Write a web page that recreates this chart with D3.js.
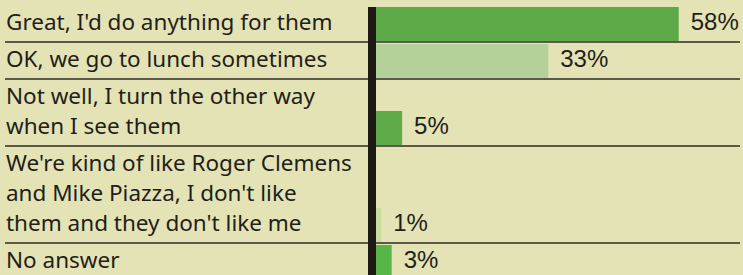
<!DOCTYPE html>
<html lang="en">
    <head>
        <meta charset="UTF-8" />
        <title>How well do you get along with them?</title>
        <script src="https://d3js.org/d3.v7.min.js"></script>
        <style>
            body {
                margin: 0;
                padding: 0;
                background: #e4e3b6;
            }
            svg {
                display: block;
            }
            .label {
                font-family: 'Noto Sans', sans-serif;
                font-size: 22.5px;
                fill: #221e19;
            }
            .value {
                font-family: 'Liberation Sans', Arial, sans-serif;
                font-size: 24px;
                fill: #221e19;
            }
            .sep {
                stroke: #2e2b24;
                stroke-width: 1.6px;
            }
        </style>
    </head>
    <body>
        <svg id="chart" width="743" height="275"></svg>

        <script>
            // answers, one entry per line of label text
            const answers = [
                ["Great, I'd do anything for them"],
                ['OK, we go to lunch sometimes'],
                ['Not well, I turn the other way', 'when I see them'],
                ["We're kind of like Roger Clemens", "and Mike Piazza, I don't like", "them and they don't like me"],
                ['No answer'],
            ];
            const percents = [58, 33, 5, 1, 3];
            const valueLabels = ['58%', '33%', '5%', '1%', '3%'];

            const barColors = ['#5eaa48', '#b4d199', '#5fab4a', '#cadc9f', '#58b548'];

            const svg = d3.select('#chart');
            const width = +svg.attr('width');
            const height = +svg.attr('height');

            const axisX = 368;
            const axisW = 8;
            const x = d3.scaleLinear().domain([0, 100]).range([axisX + axisW, axisX + axisW + 522]);

            const chartTop = 5;
            const lineH = 30;
            const barH = 34;

            // row layout from number of label lines
            let acc = chartTop;
            const rows = answers.map((lines, i) => {
                const h = 37 + lineH * (lines.length - 1);
                const r = { i, lines, y0: acc, y1: acc + h };
                acc += h;
                return r;
            });

            const g = svg.append('g');

            // separators
            g.selectAll('.sep')
                .data(rows.slice(1))
                .enter()
                .append('line')
                .attr('class', 'sep')
                .attr('x1', 5)
                .attr('x2', 740)
                .attr('y1', (d) => d.y0)
                .attr('y2', (d) => d.y0);

            // bars
            g.selectAll('.bar')
                .data(rows)
                .enter()
                .append('rect')
                .attr('class', 'bar')
                .attr('x', x(0))
                .attr('y', (d) => d.y1 - 1 - barH)
                .attr('width', (d) => x(percents[d.i]) - x(0))
                .attr('height', barH)
                .attr('fill', (d) => barColors[d.i]);

            // axis bar
            g.append('rect')
                .attr('x', axisX)
                .attr('y', 7)
                .attr('width', axisW)
                .attr('height', height - 7)
                .attr('fill', '#1d1a16');

            // category labels, lines hang from the top of each row
            const lab = g
                .selectAll('.label')
                .data(rows)
                .enter()
                .append('text')
                .attr('class', 'label');
            lab.selectAll('tspan')
                .data((d) => d.lines.map((t, k) => ({ t, k, y0: d.y0 })))
                .enter()
                .append('tspan')
                .attr('x', 6)
                .attr('y', (d) => d.y0 + 25 + d.k * lineH)
                .text((d) => d.t);

            // value labels on the last text line
            g.selectAll('.value')
                .data(rows)
                .enter()
                .append('text')
                .attr('class', 'value')
                .attr('x', (d) => x(percents[d.i]) + 12)
                .attr('y', (d) => d.y0 + 25 + (d.lines.length - 1) * lineH)
                .text((d) => valueLabels[d.i]);
        </script>
    </body>
</html>
